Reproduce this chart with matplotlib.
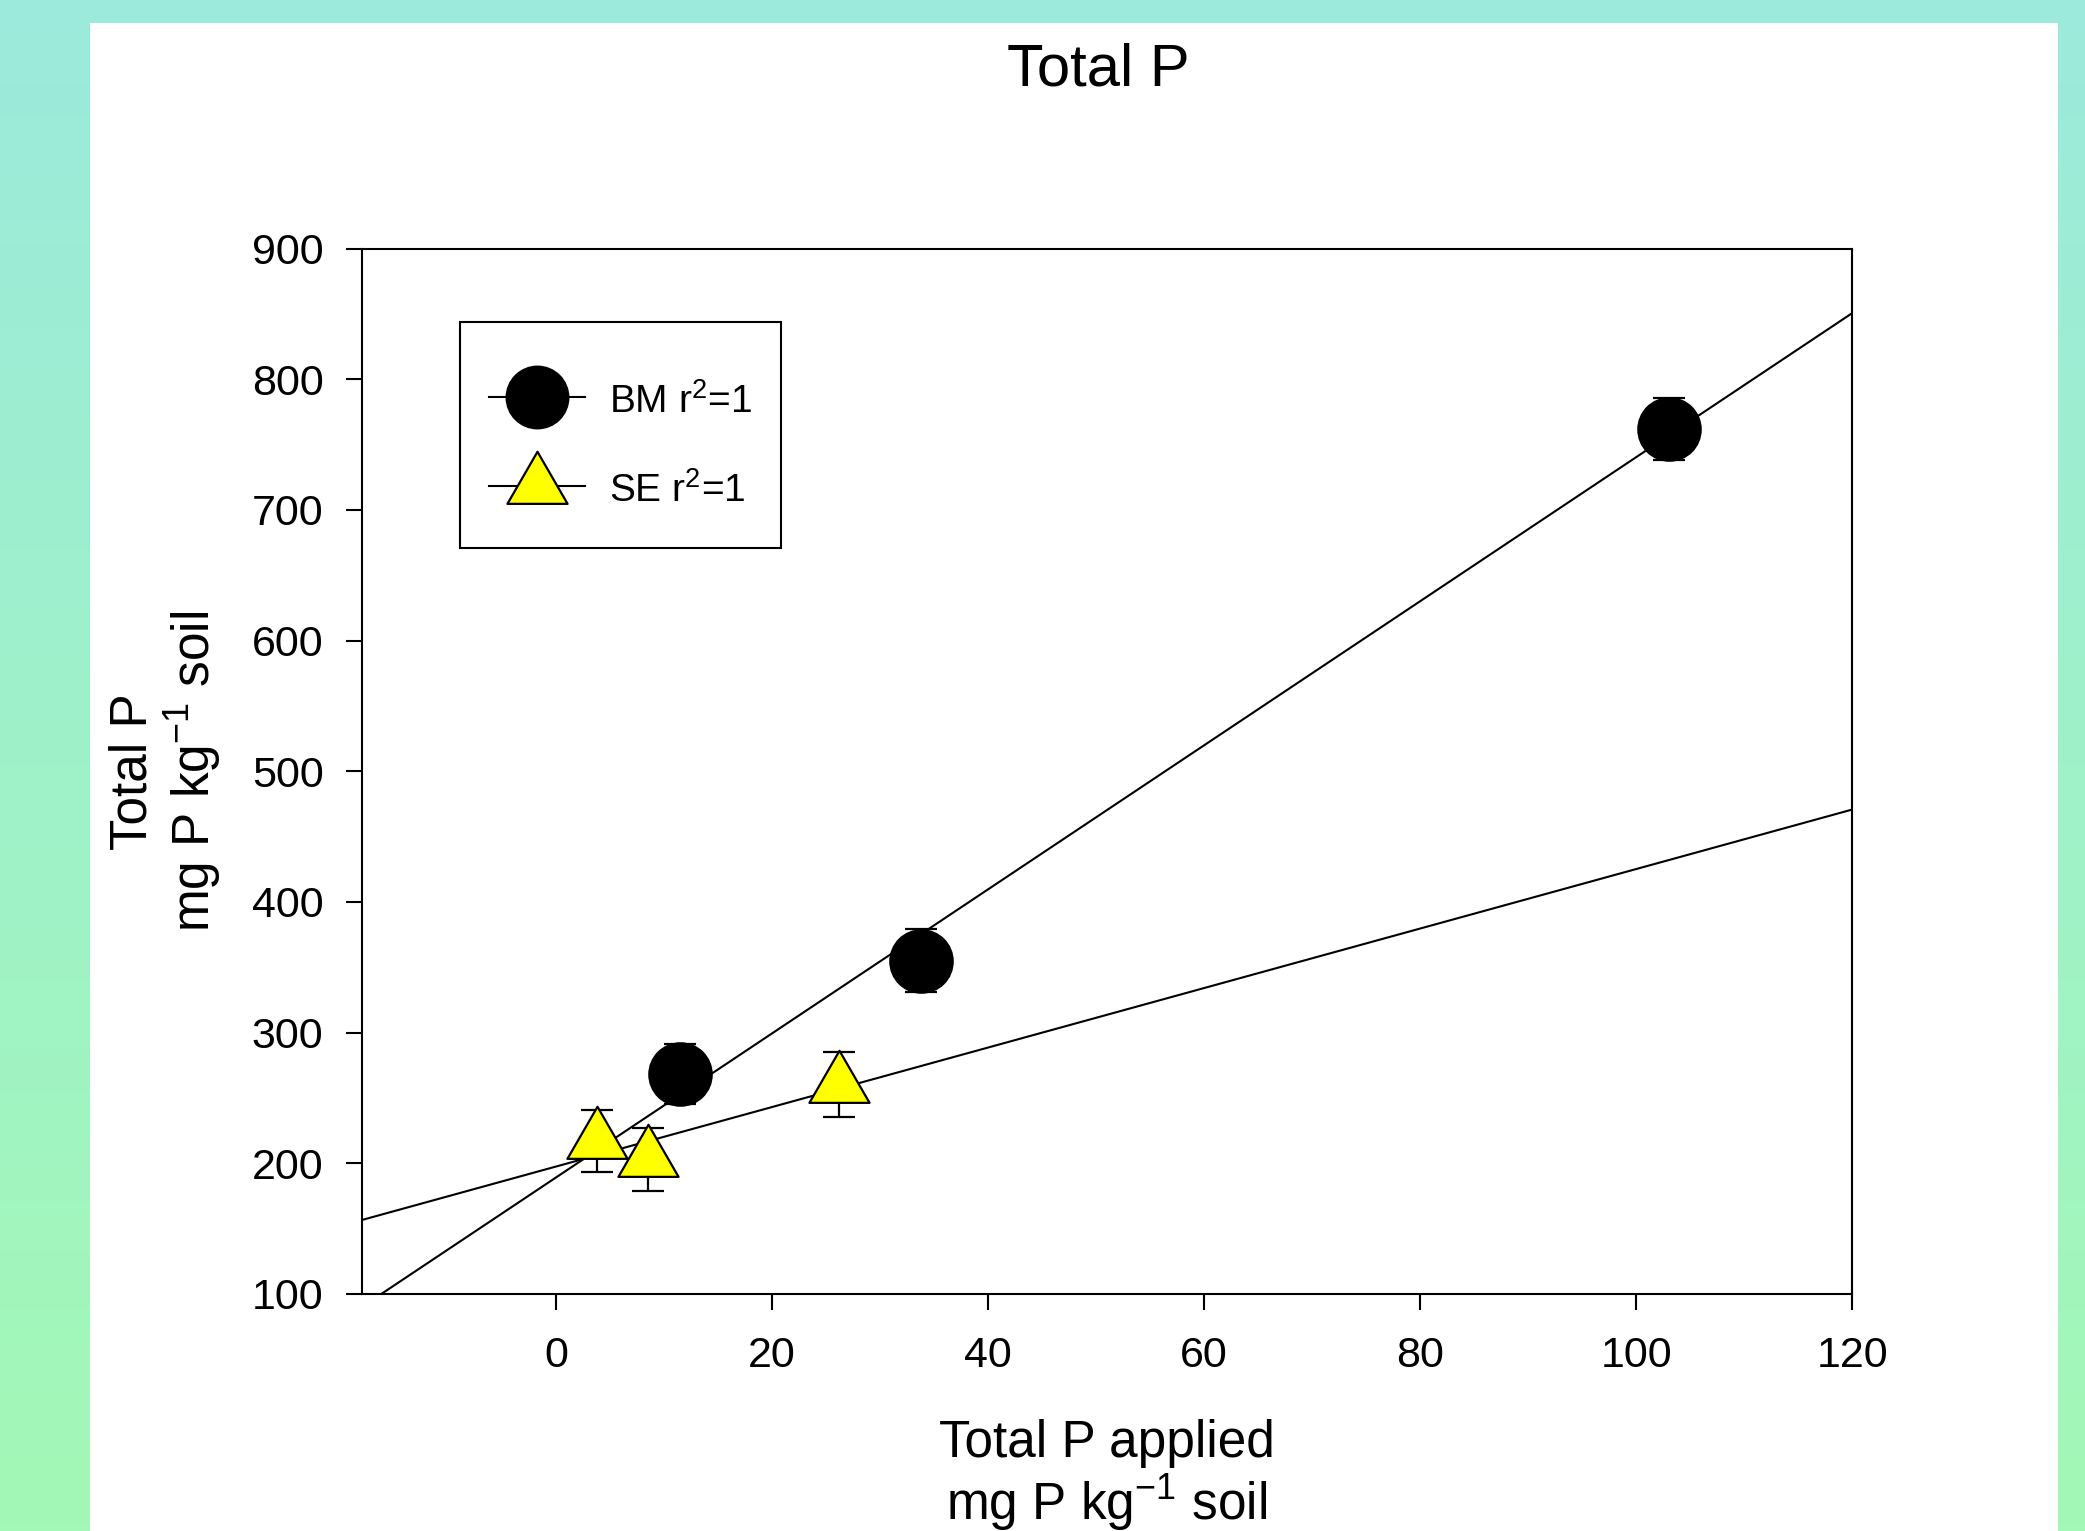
import numpy as np
import matplotlib
matplotlib.use("Agg")
import matplotlib.pyplot as plt
from matplotlib.colors import LinearSegmentedColormap
from matplotlib.legend_handler import HandlerLine2D
from matplotlib.lines import Line2D
from matplotlib.patches import Rectangle
from matplotlib.path import Path
from matplotlib.transforms import Affine2D

plt.rcParams['font.family'] = ['Liberation Sans', 'DejaVu Sans']
plt.rcParams['mathtext.fontset'] = 'custom'
plt.rcParams['mathtext.rm'] = 'Liberation Sans'
plt.rcParams['mathtext.it'] = 'Liberation Sans:italic'

# Data
bm_x = [11.5, 33.8, 103.0]
bm_y = [268, 355, 762]
bm_err = [23, 24, 24]

se_x = [3.8, 8.5, 26.2]
se_y = [217, 203, 260]
se_err = [24, 24, 25]

x_ticks = [0, 20, 40, 60, 80, 100, 120]
y_ticks = [100, 200, 300, 400, 500, 600, 700, 800, 900]
labels = ["BM r$^2$=1", "SE r$^2$=1"]

W, H = 2085, 1531
fig = plt.figure(figsize=(W / 100, H / 100), dpi=100)

# background: soft vertical gradient with a white panel on top
bg = fig.add_axes([0, 0, 1, 1], zorder=-10)
cmap = LinearSegmentedColormap.from_list("bg", ["#9BEADC", "#A3F8B6"])
bg.imshow(np.linspace(0, 1, 256).reshape(-1, 1), cmap=cmap, aspect="auto",
          extent=[0, 1, 0, 1], origin="upper")
bg.add_patch(Rectangle((90 / W, 0), (2058 - 90) / W, 1 - 23 / H,
                       facecolor="white", edgecolor="none"))
bg.set_xlim(0, 1)
bg.set_ylim(0, 1)
bg.axis("off")

# triangle with its centroid at the data point
tri = Path([(0, 1), (-0.866, -0.5), (0.866, -0.5), (0, 1)],
           [Path.MOVETO, Path.LINETO, Path.LINETO, Path.CLOSEPOLY])

left, right, top, bottom = 361.7, 1852.3, 248.7, 1293.8
ax = fig.add_axes([left / W, 1 - bottom / H, (right - left) / W, (bottom - top) / H])
ax.set_xlim(-18, 120)
ax.set_ylim(100, 900)

# regression lines
xs = np.array(ax.get_xlim())
for xv, yv in [(bm_x, bm_y), (se_x, se_y)]:
    k, b = np.polyfit(xv, yv, 1)
    ax.plot(xs, k * xs + b, color="black", lw=1.5, zorder=1)

ax.errorbar(bm_x, bm_y, yerr=bm_err, fmt="none", ecolor="black",
            elinewidth=1.6, capsize=11.5, capthick=1.6, zorder=2)
ax.errorbar(se_x, se_y, yerr=se_err, fmt="none", ecolor="black",
            elinewidth=1.6, capsize=11.5, capthick=1.6, zorder=2)
ax.plot(bm_x, bm_y, "o", ms=45, mfc="black", mec="black", mew=1.5, zorder=3)
ax.plot(se_x, se_y, ls="none", marker=tri, ms=50, mfc="#FFFF00", mec="black",
        mew=1.6, zorder=3)

ax.set_xticks(x_ticks)
ax.set_yticks(y_ticks)
ax.tick_params(direction="out", length=11.5, width=1.5, labelsize=31)
ax.tick_params(axis="x", pad=19)
ax.tick_params(axis="y", pad=16)
for s in ax.spines.values():
    s.set_linewidth(1.5)

ax.set_xlabel("Total P applied\nmg P kg$^{-1}$ soil", fontsize=37, labelpad=31,
              linespacing=1.1)
ax.set_ylabel("Total P\nmg P kg$^{-1}$ soil", fontsize=37, labelpad=20,
              linespacing=1.1)


# legend handle drawn a bit lower in its box, like the original
class LowLine(HandlerLine2D):
    def create_artists(self, *args, **kwargs):
        arts = super().create_artists(*args, **kwargs)
        for a in arts:
            a.set_ydata(np.asarray(a.get_ydata()) - 14.8)
        return arts


handles = [
    Line2D([], [], color="black", lw=1.5, marker="o", ms=45, mfc="black", mec="black"),
    Line2D([], [], color="black", lw=1.5, marker=tri, ms=50, mfc="#FFFF00",
           mec="black", mew=1.6),
]
leg = ax.legend(handles, labels, loc="upper left", bbox_to_anchor=(0.066, 0.930),
                borderaxespad=0, fontsize=28, frameon=True, fancybox=False,
                edgecolor="black", framealpha=1, handlelength=2.47,
                handleheight=2.75, handletextpad=0.6, borderpad=0.75,
                labelspacing=0.26, handler_map={Line2D: LowLine()})
leg.get_frame().set_linewidth(1.5)
for t in leg.get_texts():
    t.set_transform(t.get_transform() + Affine2D().translate(0, -11))

fig.text(1098.7 / W, 1 - 85 / H, "Total P", fontsize=43, ha="center", va="baseline")

fig.savefig("out.png", dpi=100)
